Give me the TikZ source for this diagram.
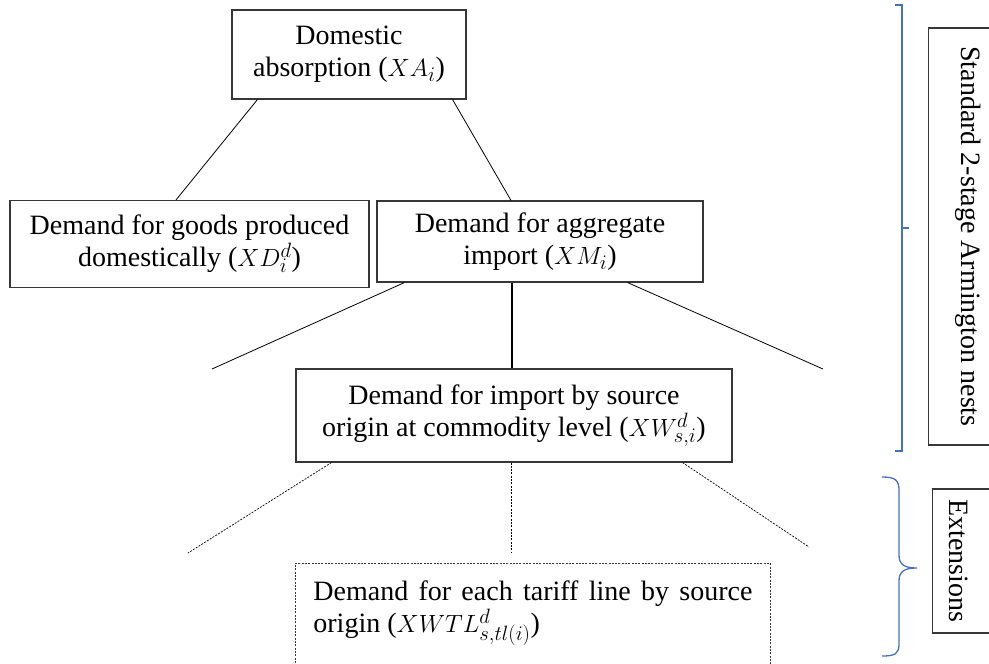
\documentclass[tikz,border=0pt]{standalone}
\usepackage{fontspec}
\setmainfont{Liberation Serif}
\usetikzlibrary{calc}
\definecolor{bracecol}{RGB}{68,114,196}
\definecolor{boxcol}{RGB}{55,55,55}
\tikzset{
  box/.style={draw=boxcol, line width=1.1pt, align=center, inner sep=0pt,
    font=\fontsize{28pt}{32pt}\selectfont},
  dotbox/.style={box, line width=0.8pt, dash pattern=on 2pt off 1.3pt},
  conn/.style={line width=0.8pt},
  thickconn/.style={line width=1.8pt},
  dotconn/.style={line width=0.7pt, dash pattern=on 2pt off 1.3pt},
  bracepath/.style={draw=bracecol, line width=1.3pt},
  sidelabel/.style={draw=boxcol, line width=1.1pt, rotate=-90, anchor=south,
    inner sep=0pt, text height=60pt, font=\fontsize{28pt}{32pt}\selectfont}
}
\begin{document}
\begin{tikzpicture}[x=1pt,y=-1pt]
\useasboundingbox (0,0) rectangle (989,664);

% main boxes
\node[box, minimum width=234pt, minimum height=89pt] (b1) at (349,54.5)
  {Domestic\\absorption ($XA_i$)};
\node[box, minimum width=359pt, minimum height=87pt] (b2) at (189.5,244)
  {Demand for goods produced\\domestically ($XD_i^d$)};
\node[box, minimum width=326pt, minimum height=81pt] (b3) at (540,241.5)
  {Demand for aggregate\\import ($XM_i$)};
\node[box, minimum width=436pt, minimum height=93pt] (b4) at (514,415.5)
  {Demand for import by source\\origin at commodity level ($XW_{s,i}^d$)};
\node[dotbox, anchor=north west, inner xsep=18pt, inner ysep=17pt] (b5) at (295,563)
  {\parbox[c][100pt][t]{439pt}{\makebox[439pt][s]{Demand for each tariff line by source}\\origin ($XWTL_{s,tl(i)}^d$)}};

% free ends
\coordinate (cL1) at (212,369);
\coordinate (cR1) at (823,369);
\coordinate (cL2) at (188,553);
\coordinate (cM2) at (511,553);
\coordinate (cR2) at (809,547);

% connectors
\draw[conn] ([xshift=26pt]b1.south west) -- ([xshift=-13.5pt]b2.north);
\draw[conn] ([xshift=-14pt]b1.south east) -- ([xshift=-29pt]b3.north);
\draw[conn] ([xshift=28pt]b3.south west) -- (cL1);
\draw[thickconn] ([xshift=-28pt]b3.south) -- ([xshift=-2pt]b4.north);
\draw[conn] ([xshift=-76pt]b3.south east) -- (cR1);
\draw[dotconn] ([xshift=36pt]b4.south west) -- (cL2);
\draw[dotconn] ([xshift=-3pt]b4.south) -- (cM2);
\draw[dotconn] ([xshift=-50pt]b4.south east) -- (cR2);

% side labels
\node[sidelabel, minimum width=417pt, text depth=33pt] (std) at (928,236.5)
  {Standard 2-stage Armington nests};
\node[sidelabel, minimum width=144pt, text depth=17pt] (ext) at (932,561)
  {Extensions};

% braces
\draw[bracepath] (895,5) -- (902,5) -- (902,451) -- (895,451);
\draw[bracepath] (902,228) -- (909,228);
\draw[bracepath] (882,477) .. controls (895,477) and (899,480) .. (899,490)
  -- (899,555) .. controls (899,565) and (905,568) .. (917,568)
  .. controls (905,568) and (899,571) .. (899,581)
  -- (899,644) .. controls (899,654) and (895,656) .. (882,656);
\end{tikzpicture}
\end{document}
